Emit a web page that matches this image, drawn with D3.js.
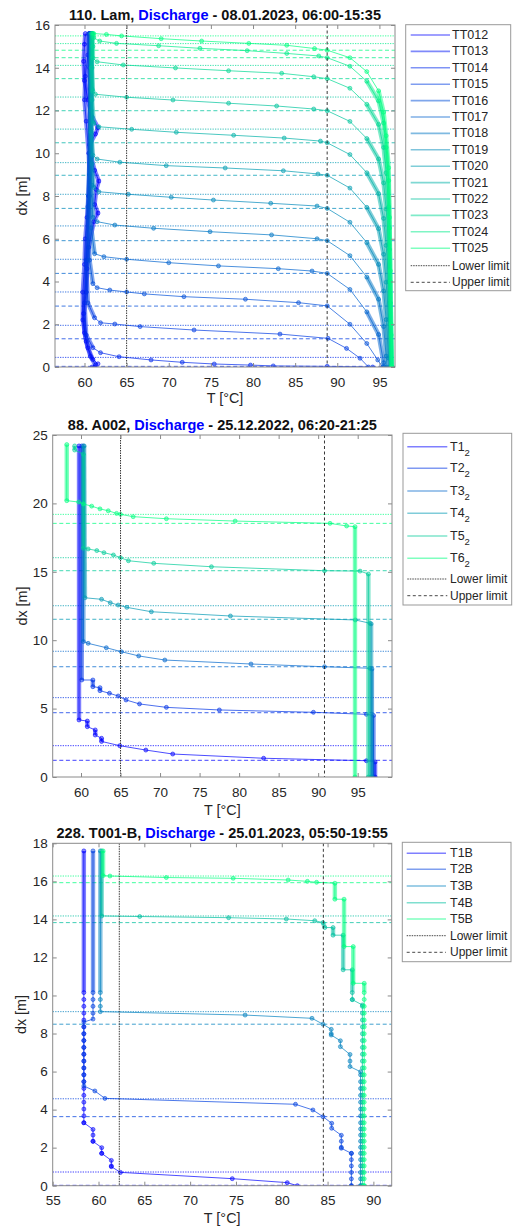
<!DOCTYPE html>
<html><head><meta charset="utf-8">
<script src="https://cdn.jsdelivr.net/npm/d3@7/dist/d3.min.js"></script>
<style>body{margin:0;background:#fff;} svg{display:block;font-family:"Liberation Sans",Arial,Helvetica,sans-serif;}</style>
</head><body><svg id="c" width="519" height="1228"></svg>
<script>
// ---------------- Panel 1 data: 110. Lam ----------------
const p1Names = ["TT012","TT013","TT014","TT015","TT016","TT017","TT018","TT019","TT020","TT021","TT022","TT023","TT024","TT025"];
const tt012 = [[61.2,0],[61.6,0.15],[61.0,0.35],[60.4,0.9],[60.0,1.6],[59.9,2.5],[60.2,3.5],[60.3,4.6],[60.5,5.6],[61.1,6.8],[61.6,7.2],[61.2,7.6],[61.4,8.3],[61.7,8.7],[61.2,9.2],[60.8,9.8],[60.6,10.4],[61.3,10.9],[61.6,11.2],[60.9,11.7],[60.4,12.5],[60.0,13.4],[59.9,14.3],[60.0,15.1],[60.1,15.6]];
const tt013 = [[60.9,0],[61.3,0.1],[60.7,0.5],[60.2,1.2],[59.8,2.2],[59.8,3.5],[60.0,4.8],[60.1,6.0],[60.3,7.0],[60.5,8.0],[60.6,9.0],[60.5,10.0],[60.2,11.5],[60.0,12.5],[60.1,13.6],[60.4,14.6],[60.6,15.6]];
const tt014 = [[94.2,0],[88.8,0.03],[82.4,0.05],[79.7,0.09],[75.4,0.14],[71.6,0.22],[67.9,0.33],[64.1,0.48],[61.9,0.67],[61.0,0.9],[60.2,1.5],[60.0,3],[60.3,5],[60.6,8],[60.7,11],[60.6,14],[60.5,15.6]];
const tt015 = [[93.7,0],[92.7,0.41],[91.1,0.87],[88.9,1.34],[83.2,1.54],[73.0,1.73],[66.6,1.89],[63.6,2.01],[61.9,2.07],[61.2,2.3],[60.4,3],[60.2,5],[60.5,8],[60.7,11],[60.6,15.6]];
const tt016 = [[95.4,0],[94.8,0.33],[93.5,1.1],[91.5,2.0],[88.8,2.86],[85.4,3.01],[79.1,3.17],[71.8,3.29],[67.1,3.42],[65,3.51],[63,3.6],[61.5,3.71],[61.0,3.9],[60.6,5],[60.4,7.5],[60.6,10],[60.7,13],[60.6,15.6]];
const tt017 = [[95.55,0],[95.5,0.2],[94.9,1.52],[93.5,2.58],[91.5,3.63],[88.8,4.38],[87.0,4.49],[83.0,4.6],[75.9,4.73],[70,4.88],[65,5.04],[62.3,5.16],[61.2,5.3],[60.8,6.5],[60.6,9],[60.7,12],[60.7,15.6]];
const tt018 = [[95.9,0],[95.8,0.51],[95.5,1.89],[94.9,3.17],[93.5,4.21],[91.5,5.21],[88.8,5.91],[87.6,6.0],[82.2,6.18],[74.9,6.33],[68.2,6.49],[63.6,6.64],[61.5,6.8],[61.0,7.0],[60.9,8.5],[60.7,11],[60.8,15.6]];
const tt019 = [[96.32,0],[96.1,0.42],[95.8,2.22],[95.5,3.56],[94.9,4.8],[93.5,5.82],[91.5,6.77],[88.8,7.42],[87.6,7.53],[82.1,7.66],[75.3,7.81],[70.3,7.94],[65.2,8.08],[61.7,8.2],[61.1,8.4],[60.9,9.5],[60.8,12],[60.8,15.6]];
const tt020 = [[96.35,0],[96.1,2.22],[95.8,3.97],[95.5,5.27],[94.9,6.47],[93.5,7.47],[91.5,8.37],[88.8,8.97],[87.7,9.03],[83.6,9.18],[76.7,9.31],[69.7,9.42],[64.2,9.58],[61.5,9.73],[61.0,9.9],[60.8,11],[60.9,13],[60.8,15.6]];
const tt021 = [[96.38,0],[96.25,2],[96.1,3.99],[95.8,5.69],[95.5,6.95],[94.9,8.11],[93.5,9.09],[91.5,9.94],[88.8,10.49],[88.0,10.57],[83.7,10.71],[77.7,10.84],[70.9,10.98],[65.6,11.12],[61.7,11.24],[61.1,11.4],[60.9,12.5],[60.8,14],[60.9,15.6]];
const tt022 = [[96.41,0],[96.25,3],[96.1,5.74],[95.8,7.39],[95.5,8.61],[94.9,9.73],[93.5,10.69],[91.5,11.49],[88.8,11.99],[87.2,12.07],[82.8,12.21],[77.1,12.34],[70.5,12.49],[65,12.62],[61.3,12.76],[61.0,12.9],[60.9,14],[60.9,15.6]];
const tt023 = [[96.44,0],[96.3,3],[96.2,5.5],[96.1,7.49],[95.8,9.09],[95.5,10.27],[94.9,11.35],[93.5,12.29],[91.5,13.04],[88.8,13.49],[87.2,13.58],[83.4,13.74],[77.1,13.86],[70.8,13.99],[64.6,14.13],[61.5,14.28],[61.0,14.45],[61.0,15.0],[60.9,15.6]];
const tt024 = [[96.47,0],[96.4,1.5],[96.3,4],[96.2,6.5],[96.1,8.72],[95.8,10.27],[95.5,11.41],[94.9,12.45],[93.5,13.37],[91.5,14.07],[88.8,14.47],[87.8,14.55],[84,14.67],[79.3,14.8],[73.7,14.91],[68.8,15.03],[63.8,15.14],[61.8,15.25],[61.1,15.4],[61.0,15.6]];
const tt025 = [[96.5,0],[96.4,2],[96.3,4.5],[96.2,7],[96.1,9.32],[95.8,10.82],[95.5,11.92],[94.9,12.92],[93.5,13.82],[91.5,14.47],[88.8,14.82],[87.3,14.9],[84,15.05],[79.5,15.14],[73.9,15.25],[69.1,15.36],[64.4,15.49],[62.6,15.56],[61.1,15.6]];
const p1Lower = [null,null,0.45,1.95,3.51,5.04,6.6,8.08,9.56,11.13,12.63,14.11,15.13,15.49];
const p1Upper = [null,null,0.03,1.32,2.85,4.38,5.91,7.42,8.97,10.49,11.99,13.49,14.47,14.82];
const p1Limits = [65, 88.8];
const p1XTicks = [60,65,70,75,80,85,90,95];
const p1YTicks = [0,2,4,6,8,10,12,14,16];

// ---------------- Panel 2 data: 88. A002 ----------------
const p2Names = [["T1","2"],["T2","2"],["T3","2"],["T4","2"],["T5","2"],["T6","2"]];
const t1_2 = [[97.2,0],[97.2,1.1],[96.1,1.19],[83.1,1.37],[71.6,1.68],[68.2,1.97],[64.9,2.29],[62.6,2.6],[62.6,2.83],[61.8,3.07],[61.8,3.44],[60.8,3.68],[60.8,4.09],[59.75,4.17],[59.75,24.2]];
const t2_2 = [[97.0,0],[97.0,4.5],[96.1,4.58],[89.4,4.73],[77.5,4.9],[70.8,5.09],[67.4,5.34],[65.7,5.63],[64.7,5.92],[63.6,6.12],[62.4,6.31],[62.4,6.53],[61.5,6.6],[61.5,7.09],[60.1,7.09],[60.1,24.2]];
const t3_2 = [[96.8,0],[96.8,7.9],[96.55,7.95],[90.8,8.06],[81.5,8.26],[70.6,8.55],[67.3,8.85],[65.1,9.16],[63.2,9.45],[60.9,9.77],[60.3,9.9],[60.3,24.2]];
const t4_2 = [[96.7,0],[96.7,11.2],[96.55,11.24],[94.7,11.48],[78.9,11.77],[68.9,12.08],[65.8,12.4],[64.7,12.57],[63.7,12.74],[62.6,12.99],[60.5,13.1],[60.4,24.2]];
const t5_2 = [[96.35,0],[96.35,14.84],[95.3,15.05],[90.8,15.08],[76.5,15.37],[69.2,15.62],[66,15.81],[65,16.03],[64.1,16.23],[62.9,16.4],[62.0,16.55],[60.9,16.67],[60.3,16.72],[60.3,23.6],[59.2,23.9],[59.2,24.2]];
const t6_2 = [[94.66,0],[94.66,18.3],[93.6,18.35],[91.5,18.54],[79.5,18.71],[70.8,18.88],[66.6,19.03],[65,19.2],[64.5,19.27],[63.45,19.46],[62.4,19.6],[61.35,19.8],[60.3,19.96],[59.7,20.1],[58.2,20.2],[58.2,24.3]];
const p2Lower = [2.29,5.8,9.19,12.52,16.03,19.2];
const p2Upper = [1.22,4.7,8.06,11.53,15.08,18.54];
const p2Limits = [65, 90.8];
const p2XTicks = [60,65,70,75,80,85,90,95];
const p2YTicks = [0,5,10,15,20,25];

// ---------------- Panel 3 data: 228. T001-B ----------------
const p3Names = ["T1B","T2B","T3B","T4B","T5B"];
const t1b = [[81.7,0],[80.6,0.16],[74.6,0.37],[62.4,0.7],[61.4,1.0],[61.4,1.33],[60.35,1.7],[60.35,2.0],[59.4,2.33],[59.4,2.96],[58.4,3.31],[58.4,17.6]];
const t2b = [[87.6,0],[87.6,1.7],[86.5,1.97],[86.5,2.65],[85.45,3.02],[85.45,3.28],[84.5,3.63],[83.4,3.98],[81.5,4.28],[60.7,4.59],[59.6,4.98],[58.4,5.24],[58.4,8.6],[59.4,8.76],[59.4,17.6]];
const t3b = [[88.6,0],[88.6,5.99],[87.45,6.26],[87.45,6.9],[86.4,7.31],[86.4,7.62],[85.4,7.92],[85.4,8.22],[84.5,8.49],[83.3,8.8],[76,8.97],[60.2,9.15],[60.2,17.6]];
const t4b = [[88.8,0],[88.8,9.5],[87.7,9.78],[87.7,11.35],[86.7,11.35],[86.7,13.17],[85.6,13.17],[85.6,13.57],[84.7,13.57],[84.5,13.83],[83.6,13.93],[80.5,14.02],[74.2,14.09],[64.5,14.15],[60.35,14.18],[60.35,17.6]];
const t5b = [[89.0,0],[89.0,10.64],[87.8,10.64],[87.8,12.57],[86.8,12.57],[86.8,15.06],[85.8,15.06],[85.8,15.9],[83.8,15.95],[82.8,16.0],[80.7,16.07],[74.7,16.16],[67.4,16.2],[61.25,16.28],[60.5,16.3],[60.5,17.6]];
const p3Lower = [0.72,4.57,9.15,14.18,16.28];
const p3Upper = [0.02,3.63,8.49,13.83,15.93];
const p3Limits = [62.27, 84.54];
const p3XTicks = [55,60,65,70,75,80,85,90];
const p3YTicks = [0,2,4,6,8,10,12,14,16,18];
const p3SampleDx = [0,0.36,0.7,1.04,1.37,1.7,2.02,2.34,2.66,2.98,3.31,3.67,4.03,4.39,4.75,5.11,5.47,5.83,6.19,6.55,6.91,7.27,7.63,7.99,8.35,8.71,9.07,9.43,9.79,10.15];

// ---------------- rendering ----------------
const svg = d3.select('#c');
const AX = '#262626', BOX = '#8a8a8a';
function winter(i,n){ const t = n>1 ? i/(n-1) : 0; return `rgb(0,${Math.round(255*t)},${Math.round(255*(1-0.5*t))})`; }

function drawPanel(c){
  const [bx0,bx1,by0,by1] = c.box;
  const x = d3.scaleLinear().domain(c.xDom).range([bx0,bx1]);
  const y = d3.scaleLinear().domain(c.yDom).range([by1,by0]);
  const n = c.series.length;
  const g = svg.append('g');
  const clipId = 'clip'+c.id;
  g.append('clipPath').attr('id',clipId).append('rect').attr('x',bx0).attr('y',by0).attr('width',bx1-bx0).attr('height',by1-by0);
  const pg = g.append('g').attr('clip-path',`url(#${clipId})`);

  // per-series crossing lines
  c.lower.forEach((v,i)=>{ if(v==null) return;
    pg.append('line').attr('x1',bx0).attr('x2',bx1).attr('y1',y(v)).attr('y2',y(v))
      .attr('stroke',winter(i,n)).attr('stroke-width',1).attr('stroke-opacity',0.75).attr('stroke-dasharray','1.3,1.2'); });
  c.upper.forEach((v,i)=>{ if(v==null) return;
    pg.append('line').attr('x1',bx0).attr('x2',bx1).attr('y1',y(v)).attr('y2',y(v))
      .attr('stroke',winter(i,n)).attr('stroke-width',1).attr('stroke-opacity',0.75).attr('stroke-dasharray','4,2.6'); });

  const line = d3.line().x(d=>x(d[0])).y(d=>y(d[1]));
  c.series.forEach((s,i)=>{
    const color = winter(i,n);
    const sg = pg.append('g');
    // dense sampling along steep runs drawn as a marker band
    for(let k=0;k<s.length-1;k++){
      const a=s[k], b=s[k+1];
      const dxp=Math.abs(x(b[0])-x(a[0])), dyp=Math.abs(y(b[1])-y(a[1]));
      if(dyp>3 && dxp<0.6*dyp){
        let lo=Math.min(a[1],b[1]), hi=Math.max(a[1],b[1]);
        const bandLo=Math.max(lo,c.denseMin);
        if(hi>bandLo){
          const f=v=> a[0]+(b[0]-a[0])*(v-a[1])/(b[1]-a[1]);
          sg.append('line').attr('x1',x(f(bandLo))).attr('y1',y(bandLo)).attr('x2',x(f(hi))).attr('y2',y(hi))
            .attr('stroke',color).attr('stroke-width',4.4).attr('stroke-opacity',0.5);
        }
        if(c.samples && Math.abs(b[0]-a[0])<0.05){
          c.samples.filter(v=>v>=lo && v<=hi && v<=c.denseMin).forEach(v=>{
            sg.append('circle').attr('cx',x(a[0])).attr('cy',y(v)).attr('r',2)
              .attr('fill',color).attr('fill-opacity',0.45).attr('stroke',color).attr('stroke-opacity',0.8).attr('stroke-width',0.7);
          });
        }
      }
    }
    sg.append('path').datum(s).attr('d',line).attr('fill','none').attr('stroke',color).attr('stroke-width',1).attr('stroke-opacity',0.7);
    sg.selectAll('circle.m').data(s).join('circle').attr('class','m')
      .attr('cx',d=>x(d[0])).attr('cy',d=>y(d[1])).attr('r',2)
      .attr('fill',color).attr('fill-opacity',0.45).attr('stroke',color).attr('stroke-opacity',0.8).attr('stroke-width',0.7);
  });

  // limit lines
  pg.append('line').attr('x1',x(c.limits[0])).attr('x2',x(c.limits[0])).attr('y1',by0).attr('y2',by1)
    .attr('stroke','#222').attr('stroke-width',0.9).attr('stroke-dasharray','1.5,1');
  pg.append('line').attr('x1',x(c.limits[1])).attr('x2',x(c.limits[1])).attr('y1',by0).attr('y2',by1)
    .attr('stroke','#222').attr('stroke-width',0.9).attr('stroke-dasharray','3,2.5');

  // axes
  const fmt = d3.format('d');
  const ab = g.append('g').attr('transform',`translate(0,${by1})`).call(d3.axisBottom(x).tickValues(c.xTicks).tickFormat(fmt).tickSizeInner(-4).tickSizeOuter(0).tickPadding(10));
  const at = g.append('g').attr('transform',`translate(0,${by0})`).call(d3.axisTop(x).tickValues(c.xTicks).tickFormat('').tickSizeInner(-4).tickSizeOuter(0));
  const al = g.append('g').attr('transform',`translate(${bx0},0)`).call(d3.axisLeft(y).tickValues(c.yTicks).tickFormat(fmt).tickSizeInner(-4).tickSizeOuter(0).tickPadding(5));
  const ar = g.append('g').attr('transform',`translate(${bx1},0)`).call(d3.axisRight(y).tickValues(c.yTicks).tickFormat('').tickSizeInner(-4).tickSizeOuter(0));
  [ab,at,al,ar].forEach(a=>{ a.select('.domain').remove(); a.selectAll('line').attr('stroke',BOX);
    a.selectAll('text').attr('fill',AX).attr('font-size',13.5).attr('font-family','"Liberation Sans",Arial,sans-serif'); });
  g.append('rect').attr('x',bx0).attr('y',by0).attr('width',bx1-bx0).attr('height',by1-by0).attr('fill','none').attr('stroke',BOX).attr('stroke-width',1);

  // labels
  g.append('text').attr('x',(bx0+bx1)/2).attr('y',c.xLabelY).attr('text-anchor','middle').attr('dominant-baseline','central')
    .attr('font-size',14.4).attr('fill',AX).text('T [°C]');
  g.append('text').attr('transform',`translate(${c.yLabelX},${(by0+by1)/2}) rotate(-90)`).attr('text-anchor','middle').attr('dominant-baseline','central')
    .attr('font-size',14.4).attr('fill',AX).text('dx [m]');
  const t = g.append('text').attr('x',(bx0+bx1)/2).attr('y',c.titleY).attr('text-anchor','middle').attr('dominant-baseline','central')
    .attr('font-size',14.5).attr('font-weight','bold').attr('fill','#111');
  t.append('tspan').text(c.title[0]);
  t.append('tspan').attr('fill','#0000ff').text('Discharge');
  t.append('tspan').text(c.title[1]);

  // legend
  const L = c.legend;
  g.append('rect').attr('x',L.box[0]).attr('y',L.box[2]).attr('width',L.box[1]-L.box[0]).attr('height',L.box[3]-L.box[2])
    .attr('fill','#fff').attr('stroke','#999').attr('stroke-width',1);
  c.names.forEach((nm,i)=>{
    const yy = L.rows[i];
    g.append('line').attr('x1',L.lx[0]).attr('x2',L.lx[1]).attr('y1',yy).attr('y2',yy).attr('stroke',winter(i,n)).attr('stroke-width',1.6).attr('stroke-opacity',0.5);
    const tx = g.append('text').attr('x',L.tx).attr('y',yy).attr('dominant-baseline','central').attr('font-size',12.5).attr('fill',AX);
    if(Array.isArray(nm)){ tx.append('tspan').text(nm[0]); tx.append('tspan').attr('dy',5).attr('font-size',9.5).text(nm[1]); }
    else tx.text(nm);
  });
  [['Lower limit','1.5,1',L.lim[0]],['Upper limit','3,2.5',L.lim[1]]].forEach(([lab,da,yy])=>{
    g.append('line').attr('x1',L.lx[0]).attr('x2',L.lx[1]).attr('y1',yy).attr('y2',yy).attr('stroke','#333').attr('stroke-width',0.9).attr('stroke-dasharray',da);
    g.append('text').attr('x',L.tx).attr('y',yy).attr('dominant-baseline','central').attr('font-size',12).attr('fill',AX).text(lab);
  });
}

drawPanel({id:1, box:[55,395,25,367], xDom:[56.5,96.85], yDom:[0,16],
  series:[tt012,tt013,tt014,tt015,tt016,tt017,tt018,tt019,tt020,tt021,tt022,tt023,tt024,tt025],
  names:p1Names, lower:p1Lower, upper:p1Upper, limits:p1Limits, xTicks:p1XTicks, yTicks:p1YTicks,
  denseMin:0, samples:null, xLabelY:398, yLabelX:22, titleY:15,
  title:['110. Lam, ',' - 08.01.2023, 06:00-15:35'],
  legend:{box:[405.7,510.7,24.7,290.7], rows:p1Names.map((d,i)=>35+16.4*i), lim:[265.7,282.3], lx:[410.7,450], tx:452}});

drawPanel({id:2, box:[52.7,392,435,777], xDom:[56.42,99.34], yDom:[0,25],
  series:[t1_2,t2_2,t3_2,t4_2,t5_2,t6_2],
  names:p2Names, lower:p2Lower, upper:p2Upper, limits:p2Limits, xTicks:p2XTicks, yTicks:p2YTicks,
  denseMin:0, samples:null, xLabelY:810, yLabelX:22, titleY:425,
  title:['88. A002, ',' - 25.12.2022, 06:20-21:25'],
  legend:{box:[403,511.7,433.3,605], rows:[446.7,468.3,491,513.3,536,558.3], lim:[579,595.7], lx:[407.3,447.3], tx:450}});

drawPanel({id:3, box:[52.7,391.7,843.3,1185.7], xDom:[55,92], yDom:[0,18],
  series:[t1b,t2b,t3b,t4b,t5b],
  names:p3Names, lower:p3Lower, upper:p3Upper, limits:p3Limits, xTicks:p3XTicks, yTicks:p3YTicks,
  denseMin:10.2, samples:p3SampleDx, xLabelY:1218, yLabelX:21, titleY:833,
  title:['228. T001-B, ',' - 25.01.2023, 05:50-19:55'],
  legend:{box:[402.3,511,842.3,961.7], rows:[853.3,869.3,886,902.7,919], lim:[935.7,952.3], lx:[406.7,446], tx:450}});
</script>
</body></html>
